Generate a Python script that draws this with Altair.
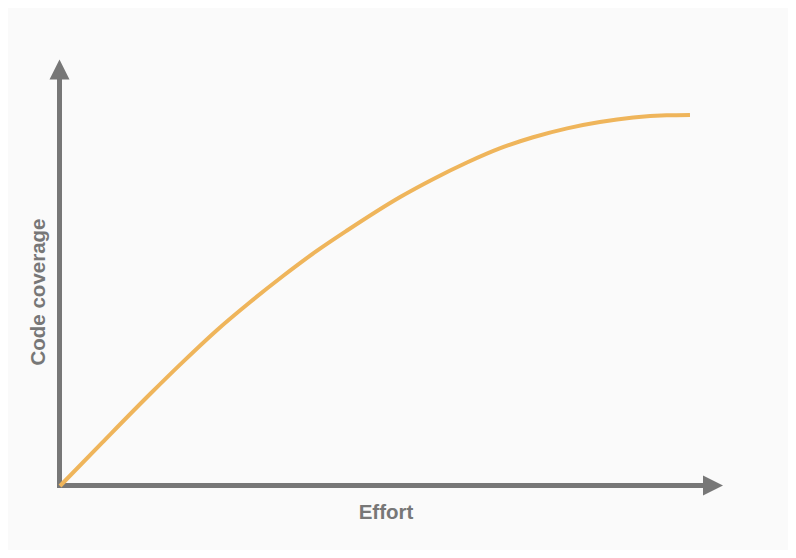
import altair as alt
import pandas as pd

# Curve (effort 0..100, coverage 0..100)
effort = [0, 6.7, 14.3, 19.6, 24.9, 30.2, 35.4, 40.7, 45.5, 54.0, 59.2, 64.6, 69.8, 75.1, 80.5, 85.7, 91.0, 96.3, 100]
coverage = [0, 11.7, 24.8, 33.6, 42.0, 49.6, 56.6, 63.3, 68.8, 77.9, 82.7, 87.2, 91.0, 94.0, 96.4, 98.1, 99.3, 99.9, 100]

x_title = "Effort"
y_title = "Code coverage"

df = pd.DataFrame({"effort": effort, "coverage": coverage})

W, H = 780, 542
GRAY = "#777777"
ORANGE = "#EFB55B"

xs = alt.Scale(domain=[-8.254, 115.56], nice=False, zero=False)
ys = alt.Scale(domain=[-17.25, 128.84], nice=False, zero=False)

curve = alt.Chart(df).mark_line(
    color=ORANGE, strokeWidth=4, interpolate="monotone", strokeCap="butt"
).encode(
    x=alt.X("effort:Q", scale=xs, axis=None),
    y=alt.Y("coverage:Q", scale=ys, axis=None),
)

one = alt.Data(values=[{}])

x_line = alt.Chart(one).mark_rule(color=GRAY, strokeWidth=5).encode(
    x=alt.value(49), x2=alt.value(697), y=alt.value(477.5)
)
y_line = alt.Chart(one).mark_rule(color=GRAY, strokeWidth=5).encode(
    x=alt.value(51.5), y=alt.value(480), y2=alt.value(69)
)
x_arrow = alt.Chart(one).mark_point(
    shape="M-1,-1L1,0L-1,1Z", filled=True, color=GRAY, opacity=1, size=400, strokeWidth=0
).encode(x=alt.value(705), y=alt.value(477.5))
y_arrow = alt.Chart(one).mark_point(
    shape="M-1,1L0,-1L1,1Z", filled=True, color=GRAY, opacity=1, size=400, strokeWidth=0
).encode(x=alt.value(51.5), y=alt.value(61.5))

x_label = alt.Chart(one).mark_text(
    text=x_title, font="Liberation Sans", fontWeight="bold", fontSize=20.5,
    color=GRAY, align="center", baseline="alphabetic"
).encode(x=alt.value(378), y=alt.value(511))
y_label = alt.Chart(one).mark_text(
    text=y_title, font="Liberation Sans", fontWeight="bold", fontSize=20.5,
    color=GRAY, align="center", baseline="alphabetic", angle=270
).encode(x=alt.value(37), y=alt.value(284))

chart = alt.layer(x_line, y_line, x_arrow, y_arrow, curve, x_label, y_label).properties(
    width=W, height=H, background="#fafafa", padding=0,
    autosize=alt.AutoSizeParams(type="none")
).configure_view(stroke=None)

chart.save("out.html", embed_options={"renderer": "svg", "actions": False})
